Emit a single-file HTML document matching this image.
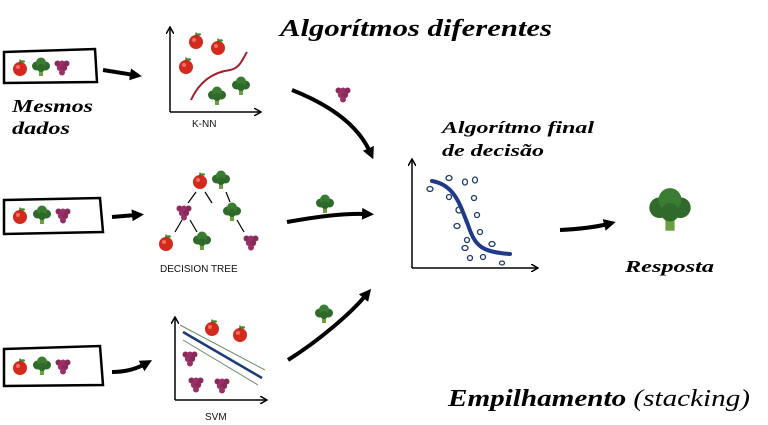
<!DOCTYPE html>
<html><head><meta charset="utf-8"><style>
html,body{margin:0;padding:0;background:#fff;width:768px;height:425px;overflow:hidden}
svg{display:block}
.t{font-family:"Liberation Serif",serif;font-weight:bold;font-style:italic;fill:#000}
.s{font-family:"Liberation Sans",sans-serif;font-size:10px;fill:#111}
</style></head><body>
<svg width="768" height="425" viewBox="0 0 768 425">
<defs>
<g id="apple"><circle cx="0" cy="1" r="7" fill="#d42a1e"/><circle cx="-2" cy="-1" r="2" fill="#f07060"/><rect x="-0.6" y="-8.5" width="1.2" height="4" fill="#5a3a10"/><ellipse cx="2.5" cy="-6.5" rx="2.5" ry="1.2" fill="#3a8a2a"/></g>
<g id="broc"><rect x="-2" y="1" width="4" height="8" fill="#6aa040"/><circle cx="-4.5" cy="-1" r="4.5" fill="#2f6a2a"/><circle cx="4.5" cy="-1" r="4.5" fill="#2f6a2a"/><circle cx="0" cy="-4.5" r="5" fill="#3a7d32"/><circle cx="0" cy="1" r="4" fill="#2f6a2a"/></g>
<g id="grape"><circle cx="-4.5" cy="-3.5" r="3" fill="#8a2a5a"/><circle cx="0" cy="-3.5" r="3" fill="#9a3068"/><circle cx="4.5" cy="-3.5" r="3" fill="#8a2a5a"/><circle cx="-2.2" cy="1" r="3" fill="#9a3068"/><circle cx="2.2" cy="1" r="3" fill="#8a2a5a"/><circle cx="0" cy="5.5" r="3" fill="#9a3068"/></g>
<marker id="ah" markerWidth="14" markerHeight="14" refX="4" refY="6" orient="auto" markerUnits="userSpaceOnUse"><path d="M0,0 L12,6 L0,12 z" fill="#000"/></marker>
<marker id="sa" markerWidth="8" markerHeight="8" refX="6" refY="4" orient="auto" markerUnits="userSpaceOnUse"><path d="M0,0 L7,4 L0,8" fill="none" stroke="#000" stroke-width="1.5"/></marker>
</defs>

<text class="t" x="280" y="36" font-size="24" textLength="272" lengthAdjust="spacingAndGlyphs">Algorítmos diferentes</text>

<!-- row 1 -->
<path d="M4,52 L95,49 L97,82 L4,83 z" fill="none" stroke="#000" stroke-width="2.5"/>
<use href="#apple" x="20" y="68"/><use href="#broc" x="41" y="67"/><use href="#grape" x="62" y="67"/>
<text class="t" x="12" y="112" font-size="18" textLength="81" lengthAdjust="spacingAndGlyphs">Mesmos</text>
<text class="t" x="12" y="134" font-size="18" textLength="58" lengthAdjust="spacingAndGlyphs">dados</text>
<path d="M103,70 L134,75" stroke="#000" stroke-width="4" fill="none" marker-end="url(#ah)"/>
<!-- KNN -->
<path d="M170,112 L170,28" stroke="#000" stroke-width="1.5" marker-end="url(#sa)"/>
<path d="M170,112 L260,112" stroke="#000" stroke-width="1.5" marker-end="url(#sa)"/>
<use href="#apple" x="196" y="41"/><use href="#apple" x="218" y="47"/><use href="#apple" x="186" y="66"/>
<path d="M191,100 C200,80 215,72 230,70 C240,68 242,60 247,52" stroke="#a02030" stroke-width="2" fill="none"/>
<use href="#broc" x="217" y="96"/><use href="#broc" x="241" y="86"/>
<text class="s" x="192" y="127">K-NN</text>
<path d="M292,90 C330,105 358,125 370,152" stroke="#000" stroke-width="4" fill="none" marker-end="url(#ah)"/>
<use href="#grape" x="343" y="94"/>

<!-- row 2 -->
<path d="M4,200 L100,198 L103,232 L4,234 z" fill="none" stroke="#000" stroke-width="2.5"/>
<use href="#apple" x="20" y="216"/><use href="#broc" x="42" y="215"/><use href="#grape" x="63" y="215"/>
<path d="M112,217 L136,215" stroke="#000" stroke-width="4" fill="none" marker-end="url(#ah)"/>
<use href="#apple" x="200" y="181"/><use href="#broc" x="221" y="180"/>
<path d="M196,192 L188,203 M205,192 L212,203 M226,192 L230,202 M182,220 L175,232 M190,220 L197,232 M237,220 L244,232" stroke="#000" stroke-width="1.2"/>
<use href="#grape" x="184" y="212"/><use href="#broc" x="232" y="212"/>
<use href="#apple" x="166" y="243"/><use href="#broc" x="202" y="241"/><use href="#grape" x="251" y="242"/>
<text class="s" x="160" y="272">DECISION TREE</text>
<path d="M287,222 C320,216 345,213 366,214" stroke="#000" stroke-width="4" fill="none" marker-end="url(#ah)"/>
<use href="#broc" x="325" y="204"/>

<!-- row 3 -->
<path d="M4,349 L100,346 L103,385 L4,386 z" fill="none" stroke="#000" stroke-width="2.5"/>
<use href="#apple" x="20" y="367"/><use href="#broc" x="42" y="366"/><use href="#grape" x="63" y="366"/>
<path d="M112,372 C125,372 136,369 145,364" stroke="#000" stroke-width="4" fill="none" marker-end="url(#ah)"/>
<path d="M175,400 L175,318" stroke="#000" stroke-width="1.5" marker-end="url(#sa)"/>
<path d="M175,400 L266,400" stroke="#000" stroke-width="1.5" marker-end="url(#sa)"/>
<path d="M180,325 L265,370 M183,340 L258,385" stroke="#6a8a6a" stroke-width="1"/>
<path d="M183,332 L262,378" stroke="#1a3a7a" stroke-width="2.5"/>
<use href="#apple" x="212" y="328"/><use href="#apple" x="240" y="334"/>
<use href="#grape" x="190" y="358"/><use href="#grape" x="196" y="384"/><use href="#grape" x="222" y="385"/>
<text class="s" x="205" y="420">SVM</text>
<path d="M288,360 C320,340 352,312 366,295" stroke="#000" stroke-width="4" fill="none" marker-end="url(#ah)"/>
<use href="#broc" x="324" y="314"/>

<!-- final -->
<text class="t" x="442" y="133" font-size="17" textLength="152" lengthAdjust="spacingAndGlyphs">Algorítmo final</text>
<text class="t" x="442" y="156" font-size="17" textLength="102" lengthAdjust="spacingAndGlyphs">de decisão</text>
<path d="M412,268 L412,160" stroke="#000" stroke-width="1.5" marker-end="url(#sa)"/>
<path d="M412,268 L537,268" stroke="#000" stroke-width="1.5" marker-end="url(#sa)"/>
<path d="M432,181 C455,185 460,205 468,225 C475,245 480,252 510,254" stroke="#1f3a8a" stroke-width="4" fill="none" stroke-linecap="round"/>
<g fill="none" stroke="#1f3a6a" stroke-width="1.3">
<ellipse cx="449" cy="178" rx="3" ry="2.5"/><ellipse cx="465" cy="182" rx="2.5" ry="3"/><ellipse cx="475" cy="180" rx="2.5" ry="3"/>
<ellipse cx="430" cy="189" rx="3" ry="2.5"/><ellipse cx="449" cy="197" rx="2.5" ry="2.5"/><ellipse cx="474" cy="198" rx="2.5" ry="2.5"/>
<ellipse cx="459" cy="210" rx="3" ry="3"/><ellipse cx="477" cy="215" rx="2.5" ry="2.5"/><ellipse cx="457" cy="226" rx="3" ry="2.5"/>
<ellipse cx="480" cy="232" rx="2.5" ry="2.5"/><ellipse cx="467" cy="240" rx="2.5" ry="2.5"/><ellipse cx="492" cy="244" rx="3" ry="2.5"/>
<ellipse cx="465" cy="248" rx="3" ry="2.5"/><ellipse cx="470" cy="258" rx="2.5" ry="2.5"/><ellipse cx="483" cy="257" rx="2.5" ry="2.5"/>
<ellipse cx="502" cy="263" rx="2.5" ry="2"/>
</g>
<path d="M560,230 C580,229 596,227 608,224" stroke="#000" stroke-width="4" fill="none" marker-end="url(#ah)"/>
<g transform="translate(670,210) scale(2.3)"><use href="#broc"/></g>
<text class="t" x="625" y="272" font-size="17" textLength="89" lengthAdjust="spacingAndGlyphs">Resposta</text>

<text class="t" x="448" y="406" font-size="24" textLength="302" lengthAdjust="spacingAndGlyphs">Empilhamento <tspan font-weight="normal">(stacking)</tspan></text>
</svg>
</body></html>
